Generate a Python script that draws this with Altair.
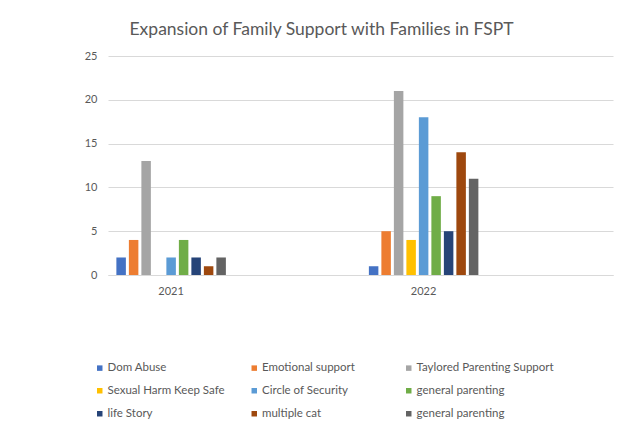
import altair as alt
import pandas as pd

years = ["2021", "2022"]
x_slots = ["2021", "gap-a", "2022", "gap-b"]
series = [
    "Dom Abuse",
    "Emotional support",
    "Taylored Parenting Support",
    "Sexual Harm Keep Safe",
    "Circle of Security",
    "general parenting",
    "life Story",
    "multiple cat",
    "general parenting (2)",
]
values_2021 = [2, 4, 13, 0, 2, 4, 2, 1, 2]
values_2022 = [1, 5, 21, 4, 18, 9, 5, 14, 11]
colors = ["#4472C4", "#ED7D31", "#A5A5A5", "#FFC000", "#5B9BD5",
          "#70AD47", "#264478", "#9E480E", "#636363"]

rows = []
for s, v in zip(series, values_2021):
    rows.append({"year": "2021", "series": s, "value": v})
for s, v in zip(series, values_2022):
    rows.append({"year": "2022", "series": s, "value": v})
df = pd.DataFrame(rows)

FONT = "Lato"
GRAY = "#595959"

chart = alt.Chart(df).mark_bar(stroke=None).encode(
    x=alt.X("year:N", title=None,
            scale=alt.Scale(domain=x_slots, paddingInner=0, paddingOuter=0),
            axis=alt.Axis(labelAngle=0, ticks=False, domainColor="#d9d9d9", labelPadding=10,
                          labelFont=FONT, labelFontSize=11, labelColor=GRAY, grid=False,
                          labelExpr="indexof(['2021','2022'], datum.label) >= 0 ? datum.label : ''")),
    xOffset=alt.XOffset("series:N", sort=series,
                        scale=alt.Scale(domain=series, paddingInner=0.24, paddingOuter=0.67)),
    y=alt.Y("value:Q", title=None,
            scale=alt.Scale(domain=[0, 25], nice=False),
            axis=alt.Axis(values=[0, 5, 10, 15, 20, 25], ticks=False, domain=False,
                          gridColor="#d9d9d9", labelPadding=11, labelFont=FONT,
                          labelFontSize=11, labelColor=GRAY)),
    color=alt.Color("series:N", sort=series,
                    scale=alt.Scale(domain=series, range=colors),
                    legend=alt.Legend(title=None, orient="none", legendX=-14, legendY=306,
                                      columns=3, direction="horizontal", gridAlign="all",
                                      symbolType="square", symbolSize=30,
                                      symbolStrokeWidth=0, labelFont=FONT, labelFontSize=11.5,
                                      labelColor=GRAY, labelOffset=2, rowPadding=10,
                                      columnPadding=3.5,
                                      labelExpr="replace(datum.label, ' (2)', '')")),
).properties(
    width=505,
    height=219,
    autosize=alt.AutoSizeParams(type="none"),
    padding={"left": 100, "top": 48, "right": 2, "bottom": 150},
    title=alt.TitleParams("Expansion of Family Support with Families in FSPT",
                          font=FONT, fontSize=17.5, fontWeight="normal", color=GRAY,
                          anchor="middle", dx=-39, offset=12),
).configure_view(stroke=None)

chart.save("out.html", embed_options={"renderer": "svg", "actions": False})
